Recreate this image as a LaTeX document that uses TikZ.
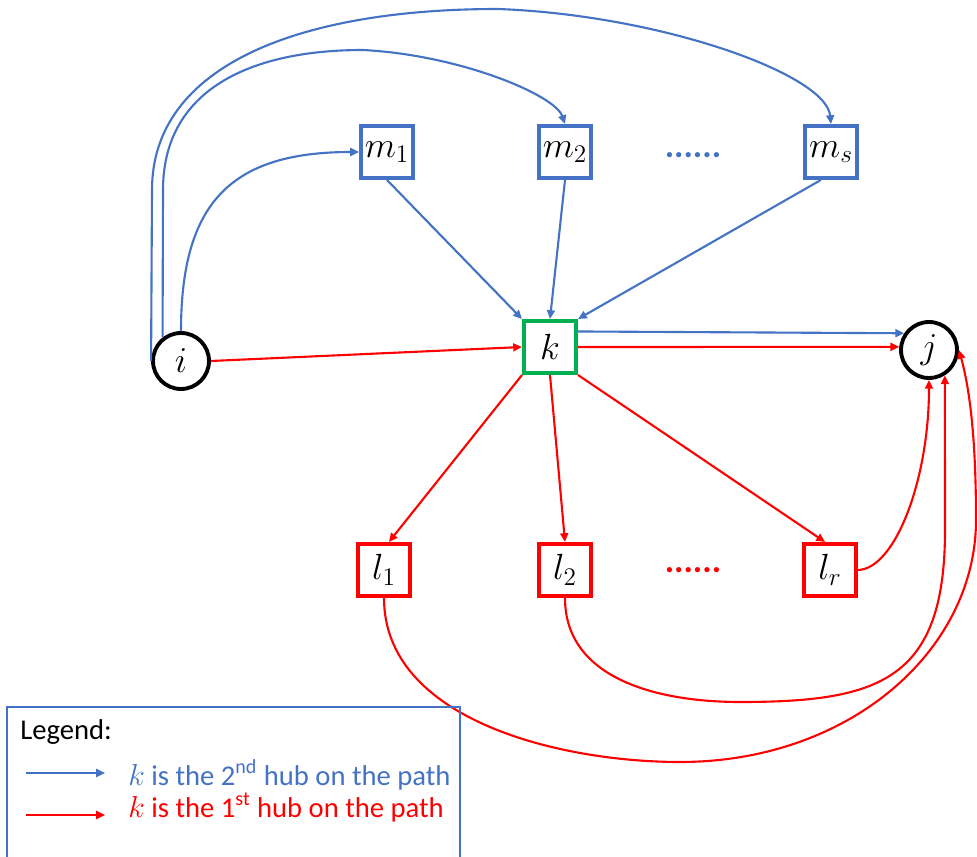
\documentclass[tikz,border=0pt]{standalone}
\usepackage{fontspec}
\setmainfont{Carlito}
\usepackage{amsmath}
\usetikzlibrary{arrows.meta, positioning}
\definecolor{hubblue}{HTML}{4472C4}
\definecolor{hubred}{HTML}{FF0000}
\definecolor{hubgreen}{HTML}{00B050}

\begin{document}
\begin{tikzpicture}[
  x=0.02cm, y=-0.02cm,
  vertex/.style={circle, draw=black, line width=2.2pt, minimum size=1.12cm, inner sep=0pt, font=\fontsize{19.5}{23}\selectfont},
  hubbox/.style={rectangle, draw, line width=2pt, minimum size=1.05cm, inner sep=0pt, font=\fontsize{19.5}{23}\selectfont},
  blueline/.style={draw=hubblue, line width=1.2pt, -{Triangle[length=5pt,width=4.5pt]}},
  redline/.style={draw=hubred, line width=1.2pt, -{Triangle[length=5pt,width=4.5pt]}},
  dotrow/.style={inner sep=0pt, font=\fontsize{20}{24}\selectfont\bfseries},
  legendtext/.style={anchor=base west, inner sep=0pt, font=\fontsize{16.3}{19}\selectfont}
]
\useasboundingbox (0,0) rectangle (977,857);
\clip (0,0) rectangle (977,857);

\node[vertex] (i) at (181,361) {$i$};
\node[vertex] (j) at (929,350) {$j$};
\node[hubbox, draw=hubgreen] (k) at (550,347) {$k$};

\node[hubbox, draw=hubblue] (m1) at (387,152) {$m_1$};
\node[hubbox, draw=hubblue] (m2) at (565,152) {$m_2$};
\node[hubbox, draw=hubblue] (ms) at (831,152) {$m_s$};
\node[dotrow, text=hubblue] (mdots) at (693,155) {......};

\node[hubbox, draw=hubred] (l1) at (384,570) {$l_1$};
\node[hubbox, draw=hubred] (l2) at (565,570) {$l_2$};
\node[hubbox, draw=hubred] (lr) at (830,570) {$l_r$};
\node[dotrow, text=hubred] (ldots) at (693,570) {......};

% blue: k second hub
\draw[blueline] (i.north) to[out=90, in=180, looseness=1.3] (m1.west);
\draw[blueline] (i.128) -- (163,190) .. controls (163,90) and (250,50) .. (363,50)
  .. controls (460,55) and (555,95) .. (m2.north);
\draw[blueline] (i.west) -- (152,190) .. controls (152,65) and (300,9) .. (498,9)
  .. controls (660,15) and (826,74) .. (ms.north);
\draw[blueline] (m1.south) -- (k.north west);
\draw[blueline] (m2.south) -- (k.north);
\draw[blueline] (ms.250) -- (k.north east);
\draw[blueline] (k.29) -- (j.146);

% red: k first hub
\draw[redline] (i.east) -- (k.west);
\draw[redline] (k.east) -- (j.174);
\draw[redline] (k.south west) -- (l1.80);
\draw[redline] (k.south) -- (l2.north);
\draw[redline] (k.south east) -- (lr.100);
\draw[redline] (lr.east) .. controls (895,569) and (929,480) .. (j.south);
\draw[redline] (l2.south) .. controls (565,680) and (660,702) .. (740,702)
  .. controls (880,702) and (945,680) .. (945,530) -- (j.-58);
\draw[redline] (l1.south) .. controls (384,720) and (560,762) .. (680,762)
  .. controls (850,762) and (976,650) .. (976,520)
  .. controls (976,440) and (970,390) .. (j.east);

% legend
\draw[hubblue, line width=0.6pt] (7,707) rectangle (460,880);
\node[legendtext] (legend) at (20,740) {Legend:};
\coordinate (blue0) at (26,773);
\coordinate (blue1) at (105,773);
\coordinate (red0) at (26,815);
\coordinate (red1) at (105,815);
\draw[blueline] (blue0) -- (blue1);
\draw[redline] (red0) -- (red1);
\node[legendtext, text=hubblue] (bluetext) at (128,785) {$k$ is the 2\textsuperscript{nd} hub on the path};
\node[legendtext, text=hubred] (redtext) at (128,817) {$k$ is the 1\textsuperscript{st} hub on the path};
\end{tikzpicture}
\end{document}
